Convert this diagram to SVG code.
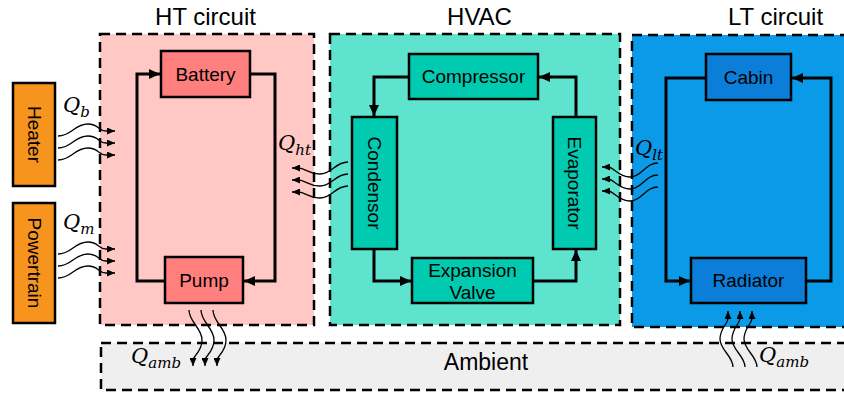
<svg xmlns="http://www.w3.org/2000/svg" width="844" height="397" viewBox="0 0 844 397">
<defs>
<style>
.zone{stroke:#000;stroke-width:2.5;stroke-dasharray:10 6}
.node{stroke:#000;stroke-width:2.5}
.lbl{font-family:"Liberation Sans",Arial,sans-serif;font-size:19px;fill:#000;text-anchor:middle;dominant-baseline:central}
.title{font-family:"Liberation Sans",Arial,sans-serif;font-size:24px;fill:#000;text-anchor:middle}
.flow{fill:none;stroke:#000;stroke-width:3}
.heat{fill:none;stroke:#000;stroke-width:1.3}
.q{font-family:"DejaVu Serif","Liberation Serif",serif;font-style:italic;font-size:21px;fill:#000}
.qs{font-size:15px}
</style>
<marker id="ah" markerUnits="userSpaceOnUse" markerWidth="12" markerHeight="10" refX="11" refY="5" orient="auto"><path d="M0,0 L11,5 L0,10 z" fill="#000"/></marker>
<marker id="sh" markerUnits="userSpaceOnUse" markerWidth="9" markerHeight="7" refX="8" refY="3.5" orient="auto"><path d="M0,0 L8,3.5 L0,7 z" fill="#000"/></marker>
</defs>

<g id="zones">
<rect id="ambient" class="zone" x="101" y="343" width="760" height="47" fill="#EFEFEF"/>
<rect id="ht-zone" class="zone" x="100" y="34" width="214" height="291" fill="#FFC8C5"/>
<rect id="hvac-zone" class="zone" x="330" y="34" width="290" height="291" fill="#5EE3CF"/>
<rect id="lt-zone" class="zone" x="632" y="35" width="220" height="292" fill="#0A9AE8"/>
<text class="title" x="205.5" y="25">HT circuit</text>
<text class="title" x="479.5" y="25">HVAC</text>
<text class="title" x="775.5" y="25">LT circuit</text>
<text class="title" x="486" y="370" style="font-size:23px">Ambient</text>
</g>

<g id="heater"><rect class="node" x="13" y="83" width="42" height="103" fill="#F7941D"/><text class="lbl" transform="translate(34,134.5) rotate(90)">Heater</text></g>
<g id="powertrain"><rect class="node" x="13" y="203" width="42" height="120" fill="#F7941D"/><text class="lbl" transform="translate(34,263) rotate(90)">Powertrain</text></g>
<g id="battery"><rect class="node" x="161" y="51" width="89" height="46" fill="#FF7F7E"/><text class="lbl" x="205.5" y="74">Battery</text></g>
<g id="pump"><rect class="node" x="165" y="257" width="78" height="46" fill="#FF7F7E"/><text class="lbl" x="204" y="280">Pump</text></g>
<g id="compressor"><rect class="node" x="409" y="54" width="129" height="45" fill="#00CBB0"/><text class="lbl" x="473.5" y="76.5">Compressor</text></g>
<g id="condensor"><rect class="node" x="352" y="117" width="45" height="132" fill="#00CBB0"/><text class="lbl" transform="translate(374.5,183) rotate(90)">Condensor</text></g>
<g id="evaporator"><rect class="node" x="553" y="117" width="43" height="132" fill="#00CBB0"/><text class="lbl" transform="translate(574.5,183) rotate(90)">Evaporator</text></g>
<g id="expansion-valve"><rect class="node" x="412" y="258" width="121" height="45" fill="#00CBB0"/><text class="lbl" x="472.5" y="270">Expansion</text><text class="lbl" x="472.5" y="292">Valve</text></g>
<g id="cabin"><rect class="node" x="706" y="54" width="85" height="46" fill="#0A7ED8"/><text class="lbl" x="748.5" y="77">Cabin</text></g>
<g id="radiator"><rect class="node" x="691" y="258" width="115" height="45" fill="#0A7ED8"/><text class="lbl" x="748.5" y="280.5">Radiator</text></g>

<g id="connectors">
<path class="flow" d="M250,74 H275 V281 H244" marker-end="url(#ah)"/>
<path class="flow" d="M165,281 H137 V74 H160" marker-end="url(#ah)"/>
<path class="flow" d="M409,77 H374 V116" marker-end="url(#ah)"/>
<path class="flow" d="M374,249 V281 H411" marker-end="url(#ah)"/>
<path class="flow" d="M533,281 H576 V250" marker-end="url(#ah)"/>
<path class="flow" d="M576,117 V77 H539" marker-end="url(#ah)"/>
<path class="flow" d="M706,78 H666 V281 H690" marker-end="url(#ah)"/>
<path class="flow" d="M806,281 H831 V78 H792" marker-end="url(#ah)"/>

<path class="heat" d="M58,136 C72,136 74,124 88,124 C99,124 98,131 106,131 L115,131" marker-end="url(#sh)"/>
<path class="heat" d="M58,148 C72,148 74,136 88,136 C99,136 98,143 106,143 L115,143" marker-end="url(#sh)"/>
<path class="heat" d="M58,160 C72,160 74,148 88,148 C99,148 98,155 106,155 L115,155" marker-end="url(#sh)"/>

<path class="heat" d="M58,254 C72,254 74,242 88,242 C99,242 98,249 106,249 L115,249" marker-end="url(#sh)"/>
<path class="heat" d="M58,266 C72,266 74,254 88,254 C99,254 98,261 106,261 L115,261" marker-end="url(#sh)"/>
<path class="heat" d="M58,278 C72,278 74,266 88,266 C99,266 98,273 106,273 L115,273" marker-end="url(#sh)"/>

<path class="heat" d="M348,162 C335,162 332,174 320,174 C308,174 306,168 298,168 L292,168" marker-end="url(#sh)"/>
<path class="heat" d="M348,174 C335,174 332,186 320,186 C308,186 306,180 298,180 L292,180" marker-end="url(#sh)"/>
<path class="heat" d="M348,186 C335,186 332,198 320,198 C308,198 306,192 298,192 L292,192" marker-end="url(#sh)"/>

<path class="heat" d="M658,163 C645,163 642,177 630,177 C618,177 614,167 608,167 L602,167" marker-end="url(#sh)"/>
<path class="heat" d="M658,175 C645,175 642,189 630,189 C618,189 614,179 608,179 L602,179" marker-end="url(#sh)"/>
<path class="heat" d="M658,187 C645,187 642,201 630,201 C618,201 614,191 608,191 L602,191" marker-end="url(#sh)"/>

<path class="heat" d="M189,310 C189,322 202,328 202,340 C202,352 193,356 193,360 L193,366" marker-end="url(#sh)"/>
<path class="heat" d="M201,310 C201,322 214,328 214,340 C214,352 205,356 205,360 L205,366" marker-end="url(#sh)"/>
<path class="heat" d="M213,310 C213,322 226,328 226,340 C226,352 217,356 217,360 L217,366" marker-end="url(#sh)"/>

<path class="heat" d="M733,367 C733,356 720,350 720,339 C720,328 728,324 728,318 L728,311" marker-end="url(#sh)"/>
<path class="heat" d="M745,367 C745,356 732,350 732,339 C732,328 740,324 740,318 L740,311" marker-end="url(#sh)"/>
<path class="heat" d="M757,367 C757,356 744,350 744,339 C744,328 752,324 752,318 L752,311" marker-end="url(#sh)"/>
</g>

<g id="heat-labels">
<text class="q" x="63" y="112">Q<tspan class="qs" dy="5">b</tspan></text>
<text class="q" x="63" y="229">Q<tspan class="qs" dy="5">m</tspan></text>
<text class="q" x="278" y="150">Q<tspan class="qs" dy="5">ht</tspan></text>
<text class="q" x="635" y="155">Q<tspan class="qs" dy="5">lt</tspan></text>
<text class="q" x="131" y="363">Q<tspan class="qs" dy="5">amb</tspan></text>
<text class="q" x="759" y="362">Q<tspan class="qs" dy="5">amb</tspan></text>
</g>
</svg>
